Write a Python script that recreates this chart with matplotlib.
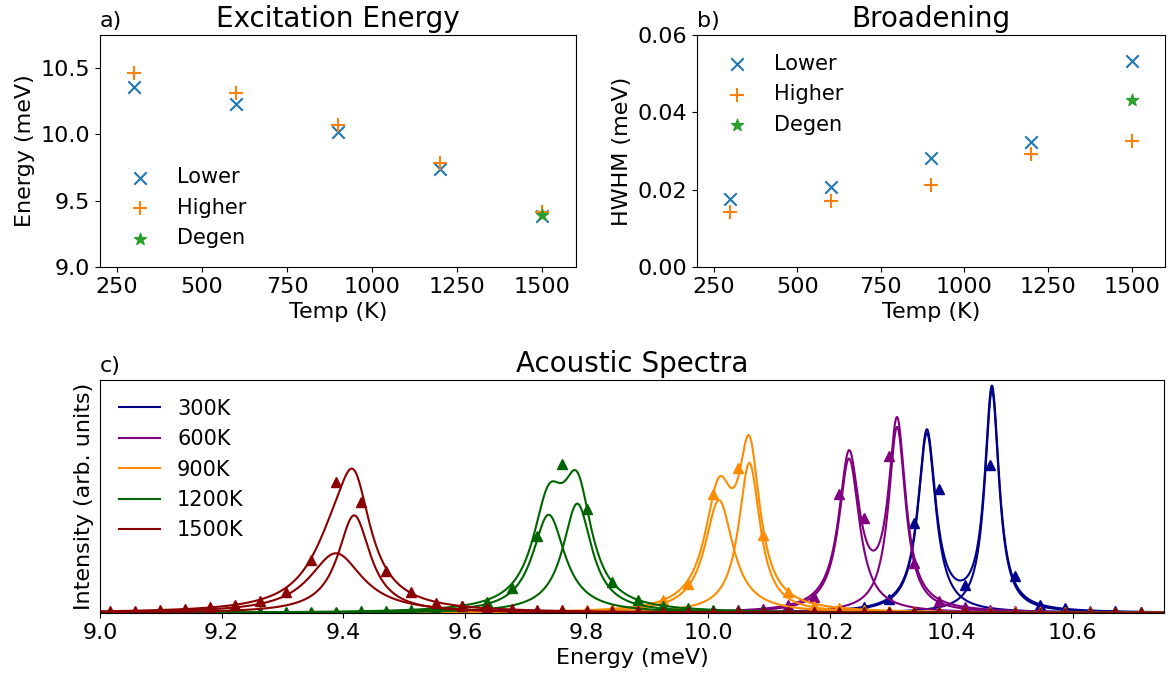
import numpy as np
import matplotlib
matplotlib.use("Agg")
import matplotlib.pyplot as plt

# ---- fit results (panels a and b) ----
temps = [300, 600, 900, 1200, 1500]
e_lower = [10.36, 10.232, 10.018, 9.738, 9.388]
e_higher = [10.467, 10.311, 10.068, 9.785, 9.418]
w_lower = [0.0177, 0.0206, 0.0282, 0.0324, 0.0533]
w_higher = [0.0143, 0.0171, 0.0212, 0.0291, 0.0326]
degen_temps = [1500]
e_degen = [9.394]
w_degen = [0.0431]

# ---- sampled spectra (panel c), 10 GHz grid ----
e_grid = [9.0158, 9.0571, 9.0985, 9.1398, 9.1812, 9.2226, 9.2639, 9.3053, 9.3466, 9.3880,
          9.4293, 9.4707, 9.5120, 9.5534, 9.5948, 9.6361, 9.6775, 9.7188, 9.7602, 9.8015,
          9.8429, 9.8842, 9.9256, 9.9670, 10.0083, 10.0497, 10.0910, 10.1324, 10.1737, 10.2151,
          10.2564, 10.2978, 10.3392, 10.3805, 10.4219, 10.4632, 10.5046, 10.5459, 10.5873, 10.6286,
          10.6700, 10.7114]
spec_300 = [0.005, 0.006, 0.006, 0.007, 0.008, 0.008, 0.009, 0.01, 0.011, 0.012,
            0.013, 0.014, 0.015, 0.017, 0.018, 0.02, 0.022, 0.024, 0.026, 0.03,
            0.033, 0.038, 0.045, 0.055, 0.067, 0.084, 0.11, 0.15, 0.21, 0.34,
            0.61, 1.45, 8.97, 12.4, 2.8, 14.8,
            3.7, 0.8, 0.5, 0.25, 0.17, 0.12]
spec_600 = [0.015, 0.016, 0.017, 0.018, 0.019, 0.02, 0.022, 0.023, 0.025, 0.027,
            0.029, 0.031, 0.034, 0.037, 0.041, 0.045, 0.05, 0.055, 0.06, 0.07,
            0.08, 0.09, 0.11, 0.14, 0.19, 0.28, 0.44, 0.83, 1.6, 11.87,
            9.47, 15.7, 5.03, 1.2, 0.63, 0.35,
            0.23, 0.16, 0.12, 0.095, 0.077, 0.065]
spec_900 = [0.014, 0.015, 0.016, 0.018, 0.02, 0.022, 0.024, 0.027, 0.03, 0.035,
            0.04, 0.047, 0.055, 0.065, 0.08, 0.095, 0.12, 0.15, 0.2, 0.28,
            0.42, 0.68, 1.29, 2.9, 11.87, 14.53, 7.8, 2.13, 0.7, 0.53,
            0.35, 0.25, 0.19, 0.15, 0.12, 0.1,
            0.085, 0.07, 0.06, 0.055, 0.05, 0.045]
spec_1200 = [0.036, 0.04, 0.045, 0.05, 0.058, 0.068, 0.08, 0.094, 0.11, 0.14,
             0.18, 0.23, 0.32, 0.46, 0.73, 1.07, 2.47, 7.73, 14.87, 10.37,
             3.13, 1.3, 0.73, 0.46, 0.32, 0.23, 0.18, 0.14, 0.115, 0.095,
             0.08, 0.07, 0.06, 0.05, 0.045, 0.04,
             0.036, 0.032, 0.029, 0.026, 0.024, 0.022]
spec_1500 = [0.2, 0.25, 0.32, 0.42, 0.58, 0.85, 1.2, 2.13, 5.3, 13.1,
             11.1, 4.2, 2.1, 0.97, 0.73, 0.47, 0.38, 0.3, 0.26, 0.22,
             0.19, 0.17, 0.15, 0.13, 0.12, 0.11, 0.1, 0.09, 0.085, 0.08,
             0.072, 0.066, 0.062, 0.058, 0.054, 0.05,
             0.047, 0.044, 0.042, 0.04, 0.038, 0.036]
spectra = [spec_300, spec_600, spec_900, spec_1200, spec_1500]
labels = ["300K", "600K", "900K", "1200K", "1500K"]
colors = ["darkblue", "purple", "darkorange", "darkgreen", "darkred"]


def lorentz(x, x0, g):
    return (g / np.pi) / ((x - x0) ** 2 + g ** 2)


W, H = 1172, 680
fig = plt.figure(figsize=(W / 100, H / 100), dpi=100)
axa = fig.add_axes([100 / W, (H - 267) / H, 476 / W, 232 / H])
axb = fig.add_axes([697 / W, (H - 267) / H, 468 / W, 232 / H])
axc = fig.add_axes([100 / W, (H - 613) / H, 1064 / W, 233 / H])

fs = 16
lfs = 15

# a) excitation energy
axa.scatter(temps, e_lower, marker="x", s=80, color="C0", label="Lower")
axa.scatter(temps, e_higher, marker="+", s=100, color="C1", label="Higher")
axa.scatter(degen_temps, e_degen, marker="*", s=80, color="C2", label="Degen")
axa.set_xlim(200, 1600)
axa.set_ylim(9.0, 10.75)
axa.set_xticks([250, 500, 750, 1000, 1250, 1500])
axa.set_yticks([9.0, 9.5, 10.0, 10.5])
axa.set_xlabel("Temp (K)", fontsize=fs)
axa.set_ylabel("Energy (meV)", fontsize=fs)
axa.set_title("Excitation Energy", fontsize=20)
axa.set_title("a)", loc="left", fontsize=fs)
axa.tick_params(labelsize=fs)
axa.legend(loc="lower left", fontsize=lfs, frameon=False)

# b) broadening
axb.scatter(temps, w_lower, marker="x", s=80, color="C0", label="Lower")
axb.scatter(temps, w_higher, marker="+", s=100, color="C1", label="Higher")
axb.scatter(degen_temps, w_degen, marker="*", s=80, color="C2", label="Degen")
axb.set_xlim(200, 1600)
axb.set_ylim(0, 0.06)
axb.set_xticks([250, 500, 750, 1000, 1250, 1500])
axb.set_yticks([0.0, 0.02, 0.04, 0.06])
axb.set_xlabel("Temp (K)", fontsize=fs)
axb.set_ylabel("HWHM (meV)", fontsize=fs)
axb.set_title("Broadening", fontsize=20)
axb.set_title("b)", loc="left", fontsize=fs)
axb.tick_params(labelsize=fs)
axb.legend(loc="upper left", fontsize=lfs, frameon=False)

# c) spectra: data triangles + two-Lorentzian fits
x = np.linspace(9.0, 10.75, 3000)
for i in range(len(temps)):
    c = colors[i]
    lo = lorentz(x, e_lower[i], w_lower[i])
    hi = lorentz(x, e_higher[i], w_higher[i])
    axc.plot(x, lo + hi, color=c, lw=1.5, label=labels[i])
    axc.plot(x, lo, color=c, lw=1.5)
    axc.plot(x, hi, color=c, lw=1.5)
    axc.plot(e_grid, spectra[i], "^", color=c, ms=7, ls="none")

axc.set_xlim(9.0, 10.75)
axc.set_ylim(0, 23.3)
axc.set_yticks([])
axc.set_xlabel("Energy (meV)", fontsize=fs)
axc.set_ylabel("Intensity (arb. units)", fontsize=fs)
axc.set_title("Acoustic Spectra", fontsize=20)
axc.set_title("c)", loc="left", fontsize=fs)
axc.tick_params(labelsize=fs)
axc.legend(loc="upper left", fontsize=lfs, frameon=False)

fig.savefig("out.png", dpi=100)
